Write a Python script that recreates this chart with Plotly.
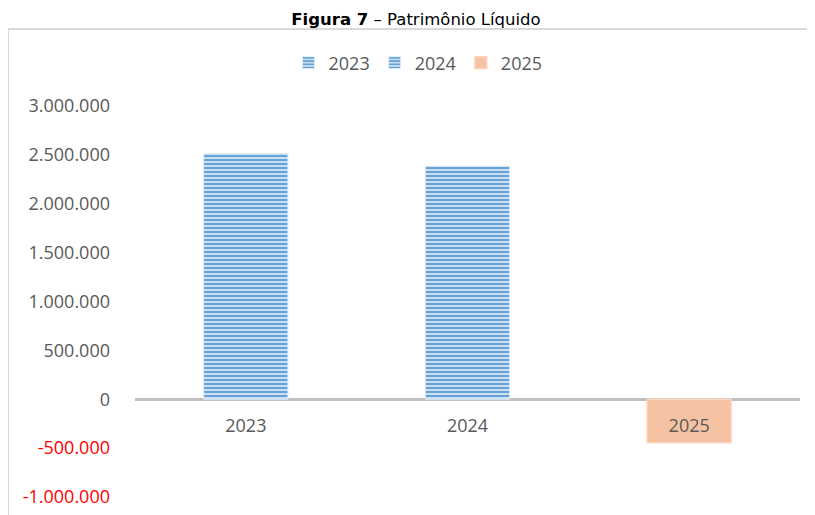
import plotly.graph_objects as go

categories = ["2023", "2024", "2025"]
values = [2515000, 2385000, -445000]
series_names = ["2023", "2024", "2025"]
ytick_vals = [-1000000, -500000, 0, 500000, 1000000, 1500000, 2000000, 2500000, 3000000]
ytick_text = ["-1.000.000", "-500.000", "0", "500.000", "1.000.000", "1.500.000",
              "2.000.000", "2.500.000", "3.000.000"]

TICK_GRAY = "#595959"
FONT = "Open Sans"

# page body has an 8px offset; figure coordinates are screen minus 8
W, H = 807, 507
L, R, T, B = 127, 15, 98, 18
PH = H - T - B
PW = W - L - R

fig = go.Figure()
for i, (cat, val, name) in enumerate(zip(categories, values, series_names)):
    if i < 2:
        marker = dict(
            color="#9DC3E6",
            line=dict(color="#DDEBF7", width=1),
            pattern=dict(shape="-", fgcolor="#5B9BD5", bgcolor="#C9DFF2",
                         size=4, solidity=0.45, fillmode="replace"),
        )
    else:
        marker = dict(color="#F5C3A4", line=dict(color="#FAD7C0", width=1.5))
    fig.add_trace(go.Bar(x=[cat], y=[val], name=name, width=0.38,
                         marker=marker, hoverinfo="skip"))

ticktext_colored = [
    f'<span style="color:#FF0000">{t}</span>' if v < 0 else t
    for v, t in zip(ytick_vals, ytick_text)
]

fx0 = (8 - 8 - L) / PW
fy0 = (H - B - (29 - 8)) / PH

fig.update_layout(
    width=W, height=H,
    margin=dict(l=L, r=R, t=T, b=B, autoexpand=False),
    paper_bgcolor="white", plot_bgcolor="white",
    barmode="relative",
    separators=",.",
    font=dict(family=FONT, color=TICK_GRAY, size=18),
    title=dict(
        text="<b>Figura 7</b> – Patrimônio Líquido",
        font=dict(family="DejaVu Sans", size=16.5, color="#000000"),
        xref="container", x=(416 - 8) / W, xanchor="center",
        yref="container", y=1 - (19 - 8) / H, yanchor="middle",
    ),
    showlegend=True,
    legend=dict(
        orientation="h", xanchor="center", x=(418 - 8 - L) / PW,
        yanchor="middle", y=1 + (T - (63 - 8)) / PH,
        font=dict(family=FONT, size=18, color=TICK_GRAY),
        bgcolor="rgba(0,0,0,0)",
    ),
    xaxis=dict(
        type="category", anchor="free", position=0.25,
        showline=False, showgrid=False, zeroline=False, ticks="",
        ticklabelstandoff=14, automargin=False,
        tickfont=dict(family=FONT, size=18, color=TICK_GRAY),
    ),
    yaxis=dict(
        range=[-1000000, 3000000],
        tickvals=ytick_vals, ticktext=ticktext_colored,
        showgrid=False, showline=False,
        zeroline=True, zerolinecolor="#BFBFBF", zerolinewidth=2.5,
        ticks="", ticklabelstandoff=24, automargin=False,
        tickfont=dict(family=FONT, size=18, color=TICK_GRAY),
    ),
    shapes=[
        dict(type="line", xref="paper", yref="paper",
             x0=fx0, x1=(W - L) / PW, y0=fy0, y1=fy0,
             line=dict(color="#D9D9D9", width=2)),
        dict(type="line", xref="paper", yref="paper",
             x0=fx0, x1=fx0, y0=fy0, y1=-B / PH,
             line=dict(color="#D9D9D9", width=2)),
    ],
)

fig.write_html("out.html")
